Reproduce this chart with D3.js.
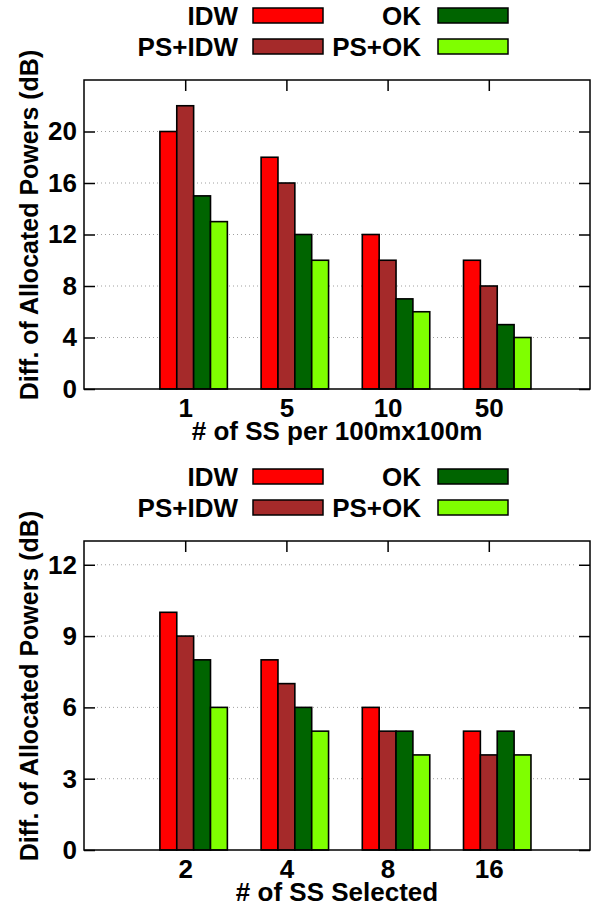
<!DOCTYPE html>
<html>
<head>
<meta charset="utf-8">
<script src="https://cdn.jsdelivr.net/npm/d3@7"></script>
<style>
  body { margin: 0; background: #fff; }
  text { font-family: "Liberation Sans", Arial, sans-serif; font-weight: bold; fill: #000; }
</style>
</head>
<body>
<div class="container"></div>
<script>
var width = 598;
var height = 906;

// data
var seriesNames = ['IDW', 'PS+IDW', 'OK', 'PS+OK'];
var seriesColors = ['#ff0000', '#a52a2a', '#006400', '#7fff00'];

var topCategories = ['1', '5', '10', '50'];
var topIDW = [20, 18, 12, 10];
var topPSIDW = [22, 16, 10, 8];
var topOK = [15, 12, 7, 5];
var topPSOK = [13, 10, 6, 4];
var topTicks = [0, 4, 8, 12, 16, 20];

var bottomCategories = ['2', '4', '8', '16'];
var bottomIDW = [10, 8, 6, 5];
var bottomPSIDW = [9, 7, 5, 4];
var bottomOK = [8, 6, 5, 5];
var bottomPSOK = [6, 5, 4, 4];
var bottomTicks = [0, 3, 6, 9, 12];

var translate = function(x, y) {
    return 'translate(' + x + ',' + y + ')';
};

var plotLeft = 84, plotRight = 590, plotTop = 80, plotBottom = 389;
var tick = 11;
var fontSize = 26;

var drawPanel = function(svg, offsetY, categories, series, yMax, yTicks, xLabel) {
    var g = svg.append('g').attr('transform', translate(0, offsetY));

    var x = d3.scaleLinear().domain([-1, 4]).range([plotLeft, plotRight]);
    var y = d3.scaleLinear().domain([0, yMax]).range([plotBottom, plotTop]);
    var w = 1 / 6;

    // grid
    g.append('g').selectAll('line')
        .data(yTicks.filter(function(d) { return d > 0; }))
        .enter().append('line')
        .attr('x1', plotLeft + tick + 2).attr('x2', plotRight - tick - 2)
        .attr('y1', function(d) { return y(d); })
        .attr('y2', function(d) { return y(d); })
        .attr('stroke', '#a0a0a0')
        .attr('stroke-width', 1)
        .attr('stroke-dasharray', '1,3');

    // bars
    series.forEach(function(vals, j) {
        g.append('g').selectAll('rect')
            .data(vals)
            .enter().append('rect')
            .attr('x', function(d, i) { return x(i + (j - 1.5) * w); })
            .attr('width', x(w) - x(0))
            .attr('y', function(d) { return y(d); })
            .attr('height', function(d) { return y(0) - y(d); })
            .attr('fill', seriesColors[j])
            .attr('stroke', '#000')
            .attr('stroke-width', 1.6);
    });

    // axes
    var yAxis = d3.axisLeft(y).tickValues(yTicks).tickSize(-tick).tickPadding(7);
    var ya = g.append('g').attr('transform', translate(plotLeft, 0)).call(yAxis);
    ya.selectAll('text').style('font-size', fontSize + 'px').attr('fill', '#000');

    var yAxisR = d3.axisRight(y).tickValues(yTicks).tickSize(-tick).tickFormat('');
    g.append('g').attr('transform', translate(plotRight, 0)).call(yAxisR);

    var xAxisTop = d3.axisTop(x).tickValues([0, 1, 2, 3]).tickSize(-tick).tickFormat('');
    g.append('g').attr('transform', translate(0, plotTop)).call(xAxisTop);

    var xAxis = d3.axisBottom(x).tickValues([0, 1, 2, 3]).tickSize(0).tickPadding(10)
        .tickFormat(function(d) { return categories[d]; });
    var xa = g.append('g').attr('transform', translate(0, plotBottom)).call(xAxis);
    xa.selectAll('text').style('font-size', fontSize + 'px').attr('fill', '#000');

    g.selectAll('.domain').remove();
    g.selectAll('.tick line').attr('stroke', '#000').attr('stroke-width', 1.5);

    // border
    g.append('rect')
        .attr('x', plotLeft).attr('y', plotTop)
        .attr('width', plotRight - plotLeft).attr('height', plotBottom - plotTop)
        .attr('fill', 'none').attr('stroke', '#000').attr('stroke-width', 1.5);

    // labels
    g.append('text')
        .attr('x', (plotLeft + plotRight) / 2).attr('y', 440)
        .attr('text-anchor', 'middle')
        .style('font-size', fontSize + 'px')
        .text(xLabel);

    g.append('text')
        .attr('transform', translate(38, 225) + ' rotate(-90)')
        .attr('text-anchor', 'middle')
        .style('font-size', '25px')
        .text('Diff. of Allocated Powers (dB)');

    // legend
    var legendPos = [
        {tx: 238, bx: 253, by: 8},
        {tx: 238, bx: 253, by: 39},
        {tx: 421, bx: 438, by: 8},
        {tx: 421, bx: 438, by: 39}
    ];
    var lg = g.append('g').selectAll('g').data(seriesNames).enter().append('g');
    lg.append('text')
        .attr('x', function(d, i) { return legendPos[i].tx; })
        .attr('y', function(d, i) { return legendPos[i].by + 17; })
        .attr('text-anchor', 'end')
        .style('font-size', fontSize + 'px')
        .text(function(d) { return d; });
    lg.append('rect')
        .attr('x', function(d, i) { return legendPos[i].bx; })
        .attr('y', function(d, i) { return legendPos[i].by; })
        .attr('width', 70).attr('height', 15)
        .attr('fill', function(d, i) { return seriesColors[i]; })
        .attr('stroke', '#000').attr('stroke-width', 1.5);
};

var draw = function() {
    var svg = d3.select('.container').append('svg')
        .attr('width', width)
        .attr('height', height);

    drawPanel(svg, 0, topCategories, [topIDW, topPSIDW, topOK, topPSOK], 24, topTicks,
        '# of SS per 100mx100m');
    drawPanel(svg, 461, bottomCategories, [bottomIDW, bottomPSIDW, bottomOK, bottomPSOK], 13, bottomTicks,
        '# of SS Selected');
};

window.onload = draw;
</script>
</body>
</html>
